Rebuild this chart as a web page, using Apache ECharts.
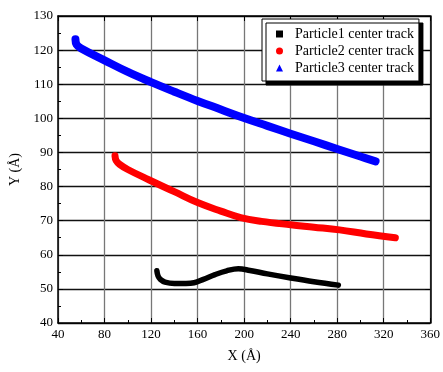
<!DOCTYPE html>
<html><head><meta charset="utf-8">
<script src="https://cdn.jsdelivr.net/npm/echarts@6/dist/echarts.min.js"></script>
<style>html,body{margin:0;padding:0;background:#fff}#c{width:443px;height:372px}</style>
</head><body><div id="c"></div>
<script>
var xTicks = [40, 80, 120, 160, 200, 240, 280, 320, 360];
var yTicks = [40, 50, 60, 70, 80, 90, 100, 110, 120, 130];
var p1 = [[125,55.3],[126,53.8],[128,52.8],[132,52],[140,51.6],[150,51.6],[157,51.8],[165,52.8],[175,54.2],[185,55.3],[195,55.9],[205,55.4],[220,54.4],[240,53.2],[260,52.1],[281,51.1]];
var p2 = [[89,89],[90,87.6],[93,86.5],[100,85],[118,82],[140,78.5],[160,75.3],[180,72.8],[197,70.9],[215,69.8],[240,68.8],[260,68.1],[282,67.3],[305,66.1],[330,65]];
var p3 = [[55,123.2],[56,121.6],[60,120.5],[80,117],[100,113.6],[120,110.6],[140,107.8],[160,105.1],[180,102.6],[200,100.1],[220,97.8],[240,95.5],[260,93.3],[280,91],[300,88.8],[313,87.4]];
var names = ['Particle1 center track','Particle2 center track','Particle3 center track'];
var F = '"Liberation Serif","Times New Roman",serif';
var chart = echarts.init(document.getElementById('c'));
function mk(name, data, color, w){
  return {name:name, type:'line', data:data, smooth:0.4, showSymbol:false, symbolSize:6,
    itemStyle:{color:color}, lineStyle:{color:color, width:w, cap:'round', join:'round'}, silent:true, animation:false, z:3};
}
chart.setOption({
  animation:false,
  grid:{left:55, right:11, top:16, bottom:49},
  legend:{orient:'vertical', left:262, top:19, itemGap:3, itemWidth:7, itemHeight:7,
    padding:[8,5,6,14], backgroundColor:'#fff', borderColor:'#000', borderWidth:1, borderRadius:0,
    shadowColor:'#000', shadowOffsetX:4, shadowOffsetY:4, shadowBlur:0.01,
    textStyle:{fontFamily:F, fontSize:14, color:'#000', padding:[0,0,0,7]},
    data:[{name:names[0], icon:'rect', itemStyle:{color:'#000'}},
          {name:names[1], icon:'circle', itemStyle:{color:'#ff0000'}},
          {name:names[2], icon:'triangle', itemStyle:{color:'#0000ff'}}]},
  xAxis:[{type:'value', min:xTicks[0], max:xTicks[xTicks.length-1], interval:40, name:'X (Å)', nameLocation:'middle', nameGap:26,
    nameTextStyle:{fontFamily:F, fontSize:14, color:'#000'},
    axisLine:{lineStyle:{color:'#000', width:1.5}}, axisTick:{inside:true, length:5, lineStyle:{color:'#000'}},
    minorTick:{show:true, splitNumber:2, length:3, lineStyle:{color:'#000'}},
    axisLabel:{fontFamily:F, fontSize:13, color:'#000', margin:5},
    splitLine:{show:true, lineStyle:{color:'#777', width:1.3}}},
   {type:'value', position:'top', min:40, max:360, interval:40, axisLine:{show:true, lineStyle:{color:'#000', width:1.5}},
    axisTick:{inside:true, length:5, lineStyle:{color:'#000'}}, axisLabel:{show:false}, splitLine:{show:false}}],
  yAxis:[{type:'value', min:yTicks[0], max:yTicks[yTicks.length-1], interval:10, name:'Y (Å)', nameLocation:'middle', nameGap:36,
    nameTextStyle:{fontFamily:F, fontSize:14, color:'#000'},
    axisLine:{show:true, lineStyle:{color:'#000', width:1.5}}, axisTick:{show:true, inside:true, length:5, lineStyle:{color:'#000'}},
    minorTick:{show:true, splitNumber:2, length:3, lineStyle:{color:'#000'}},
    axisLabel:{fontFamily:F, fontSize:13, color:'#000', margin:5},
    splitLine:{show:true, lineStyle:{color:'#111', width:1.3}}},
   {type:'value', position:'right', min:40, max:130, interval:10, axisLine:{show:true, lineStyle:{color:'#000', width:1.5}},
    axisTick:{show:true, inside:true, length:5, lineStyle:{color:'#000'}}, axisLabel:{show:false}, splitLine:{show:false}}],
  series:[mk(names[0], p1, '#000', 5.5), mk(names[1], p2, '#ff0000', 7), mk(names[2], p3, '#0000ff', 8)]
});
</script></body></html>
